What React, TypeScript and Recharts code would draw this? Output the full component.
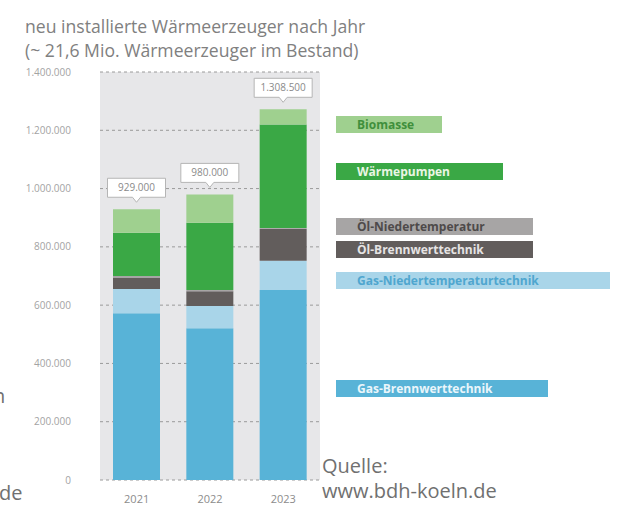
import React from "react";
import {
  BarChart,
  Bar,
  XAxis,
  YAxis,
  CartesianGrid,
  LabelList,
} from "recharts";

// values (units: installed heat generators)
const years = ["2021", "2022", "2023"];
const gasBrennwert = [572000, 521000, 652000];
const gasNieder = [83000, 76000, 100000];
const oelBrennwert = [38000, 51000, 110000];
const oelNieder = [7000, 4000, 3000];
const waermepumpen = [148000, 231000, 355000];
const biomasse = [81000, 97000, 52000];
const totalLabels = ["929.000", "980.000", "1.308.500"];
const yTicks = [0, 200000, 400000, 600000, 800000, 1000000, 1200000, 1400000];

const data = years.map((year, i) => ({
  year,
  gasBrennwert: gasBrennwert[i],
  gasNieder: gasNieder[i],
  oelBrennwert: oelBrennwert[i],
  oelNieder: oelNieder[i],
  waermepumpen: waermepumpen[i],
  biomasse: biomasse[i],
}));

// stacking order, bottom to top
const series = [
  { key: "gasBrennwert", name: "Gas-Brennwerttechnik", color: "#58b3d7" },
  { key: "gasNieder", name: "Gas-Niedertemperaturtechnik", color: "#a9d5e9" },
  { key: "oelBrennwert", name: "Öl-Brennwerttechnik", color: "#625d5c" },
  { key: "oelNieder", name: "Öl-Niedertemperatur", color: "#a7a5a5" },
  { key: "waermepumpen", name: "Wärmepumpen", color: "#3aa845" },
  { key: "biomasse", name: "Biomasse", color: "#9fd08f" },
];

// the hand-placed legend boxes on the right
const legendBoxes = [
  { key: "biomasse", top: 116, width: 106, text: "#3f8f3c" },
  { key: "waermepumpen", top: 163, width: 167, text: "#eaf6e4" },
  { key: "oelNieder", top: 218, width: 197, text: "#4e4a4a" },
  { key: "oelBrennwert", top: 241, width: 197, text: "#e6e4e4" },
  { key: "gasNieder", top: 272, width: 274, text: "#4fa6cf" },
  { key: "gasBrennwert", top: 380, width: 212, text: "#eaf6fb" },
];

const thousands = (v: number) =>
  String(v).replace(/\B(?=(\d{3})+(?!\d))/g, ".");

const Callout = (props: any) => {
  const { x, y, width, index } = props;
  const cx = x + width / 2;
  const w = 58;
  const h = 19;
  const bottom = y - 12;
  return (
    <g>
      <path
        d={`M${cx - w / 2},${bottom - h} h${w} v${h} h${-(w / 2 - 4)} l-4,5 l-4,-5 h${-(w / 2 - 4)} z`}
        fill="#ffffff"
        stroke="#b5b5b5"
        strokeWidth={1}
      />
      <text
        x={cx}
        y={bottom - 6}
        textAnchor="middle"
        fontSize={10}
        fill="#8a8a8a"
        fontFamily="Open Sans"
      >
        {totalLabels[index]}
      </text>
    </g>
  );
};

const grey = "#808080";
const bigText = {
  position: "absolute" as const,
  fontFamily: "Open Sans",
  fontSize: 20,
  lineHeight: "25px",
  color: "#707070",
  whiteSpace: "nowrap" as const,
};

export default function App() {
  return (
    <div
      style={{
        position: "absolute",
        left: 0,
        top: 0,
        width: 621,
        height: 518,
        background: "#ffffff",
        overflow: "hidden",
      }}
    >
      <div
        style={{
          position: "absolute",
          left: 25,
          top: 14,
          fontFamily: "Open Sans",
          fontSize: 17.6,
          lineHeight: "24px",
          color: grey,
          whiteSpace: "nowrap",
        }}
      >
        neu installierte Wärmeerzeuger nach Jahr
        <br />
        (~ 21,6 Mio. Wärmeerzeuger im Bestand)
      </div>

      <BarChart
        width={621}
        height={518}
        data={data}
        margin={{ top: 72, right: 301, left: 60, bottom: 18 }}
        barSize={47}
        style={{ position: "absolute", left: 0, top: 0 }}
      >
        <CartesianGrid
          vertical={false}
          fill="#e7e7e9"
          stroke="#9a9a9a"
          strokeDasharray="3 3"
        />
        <XAxis
          dataKey="year"
          height={20}
          axisLine={false}
          tickLine={false}
          tickMargin={9}
          tick={{ fontSize: 11, fill: "#8c8c8c", fontFamily: "Open Sans" }}
        />
        <YAxis
          width={40}
          domain={[0, 1400000]}
          ticks={yTicks}
          interval={0}
          axisLine={false}
          tickLine={false}
          tickSize={0}
          tickMargin={29}
          tickFormatter={thousands}
          tick={{ fontSize: 10, fill: "#a3a3a3", fontFamily: "Open Sans" }}
        />
        {series.map((s) => (
          <Bar
            key={s.key}
            dataKey={s.key}
            name={s.name}
            stackId="a"
            fill={s.color}
            isAnimationActive={false}
          >
            {s.key === "biomasse" && <LabelList content={<Callout />} />}
          </Bar>
        ))}
      </BarChart>

      {legendBoxes.map((b) => {
        const s = series.find((x) => x.key === b.key)!;
        return (
          <div
            key={b.key}
            style={{
              position: "absolute",
              left: 336,
              top: b.top,
              width: b.width,
              height: 17,
              background: s.color,
              color: b.text,
              fontFamily: "Open Sans",
              fontWeight: 700,
              fontSize: 12,
              lineHeight: "17px",
              paddingLeft: 21,
              boxSizing: "border-box",
              whiteSpace: "nowrap",
            }}
          >
            {s.name}
          </div>
        );
      })}

      <div style={{ ...bigText, left: 322, top: 453 }}>
        Quelle:
        <br />
        www.bdh-koeln.de
      </div>
      <div style={{ ...bigText, left: -1, top: 480 }}>de</div>
      <div style={{ ...bigText, left: -7, top: 383 }}>n</div>
    </div>
  );
}
